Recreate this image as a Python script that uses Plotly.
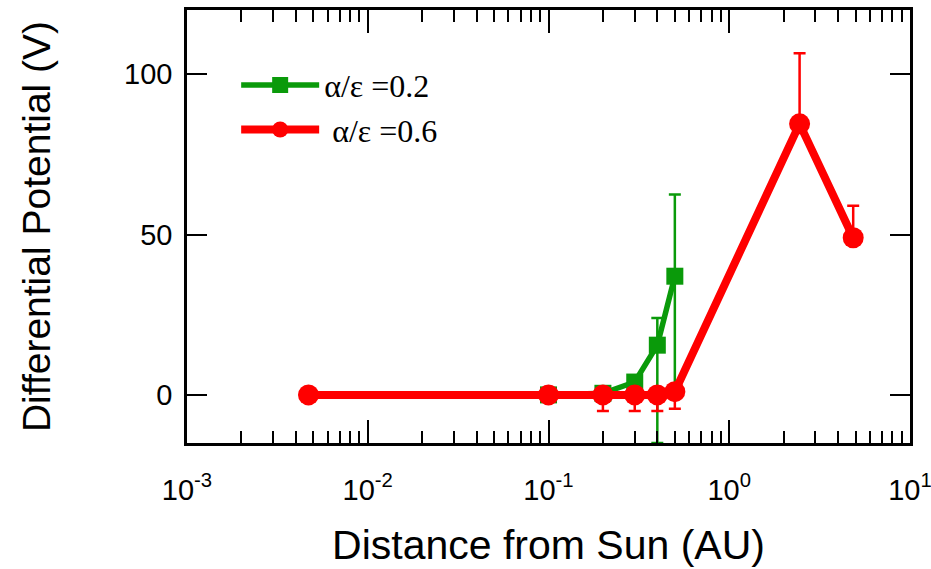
import plotly.graph_objects as go

# Distance from the Sun (AU) and differential potential (V)
dist_02 = [0.1, 0.2, 0.3, 0.4, 0.5]
pot_02 = [0.0, 0.5, 4.0, 15.5, 37.0]
err_up_02 = [0, 0, 0, 8.5, 25.5]
err_dn_02 = [0, 0, 0, 30.5, 37.0]

dist_06 = [0.0047, 0.1, 0.2, 0.3, 0.4, 0.5, 2.45, 4.85]
pot_06 = [0.0, 0.0, 0.0, 0.0, 0.0, 1.0, 84.5, 49.0]
err_up_06 = [0, 0, 0, 0, 0, 0, 22.0, 10.0]
err_dn_06 = [0, 0, 5.0, 5.0, 5.0, 5.3, 0, 0]

x_tickvals = [1e-3, 1e-2, 1e-1, 1e0, 1e1]
x_ticktext = ["10<sup>-3</sup>", "10<sup>-2</sup>", "10<sup>-1</sup>",
              "10<sup>0</sup>", "10<sup>1</sup>"]
y_tickvals = [0, 50, 100]

GREEN = "#0a9a0a"
RED = "#ff0000"
SANS = "Liberation Sans, Arial, sans-serif"
SERIF = "Liberation Serif, Times New Roman, serif"

fig = go.Figure()

fig.add_trace(go.Scatter(
    x=dist_02, y=pot_02, mode="lines+markers",
    name="α/ε =0.2", legendgroup="a",
    line=dict(color=GREEN, width=5.5),
    marker=dict(symbol="square", size=17, color=GREEN),
    error_y=dict(type="data", symmetric=False, array=err_up_02,
                 arrayminus=err_dn_02, color=GREEN, thickness=2.5, width=6),
))

fig.add_trace(go.Scatter(
    x=dist_06, y=pot_06, mode="lines+markers",
    name=" α/ε =0.6", legendgroup="b",
    line=dict(color=RED, width=8),
    marker=dict(symbol="circle", size=21, color=RED),
    error_y=dict(type="data", symmetric=False, array=err_up_06,
                 arrayminus=err_dn_06, color=RED, thickness=2.5, width=6),
))

axis_font = dict(family=SANS, size=29, color="black")

fig.update_layout(
    width=931, height=569,
    margin=dict(l=187, r=21, t=10, b=126),
    paper_bgcolor="white", plot_bgcolor="white",
    showlegend=True,
    legend=dict(
        x=0.068, y=0.89, xanchor="left", yanchor="top",
        font=dict(family=SERIF, size=32, color="black"),
        bgcolor="rgba(0,0,0,0)", itemwidth=78, tracegroupgap=0,
    ),
    xaxis=dict(
        type="log", range=[-3, 1], automargin=False,
        tickvals=x_tickvals, ticktext=x_ticktext,
        ticks="inside", ticklen=23, tickwidth=2, tickcolor="black",
        minor=dict(ticks="inside", ticklen=12, tickwidth=2, tickcolor="black",
                   dtick="D1", showgrid=False),
        showline=True, linewidth=2.5, linecolor="black", mirror="allticks",
        showgrid=False, zeroline=False,
        tickfont=axis_font, ticklabelstandoff=19, ticklabeloverflow="allow",
        title=dict(text="Distance from Sun (AU)", standoff=26,
                   font=dict(family=SANS, size=41, color="black")),
    ),
    yaxis=dict(
        range=[-15, 120],
        tickvals=y_tickvals,
        ticks="inside", ticklen=20, tickwidth=2, tickcolor="black",
        showline=True, linewidth=2.5, linecolor="black", mirror="allticks",
        showgrid=False, zeroline=False,
        tickfont=axis_font, ticklabelstandoff=6,
        title=dict(text="Differential Potential (V)", standoff=62,
                   font=dict(family=SANS, size=39, color="black")),
    ),
)

fig.write_html("out.html")
